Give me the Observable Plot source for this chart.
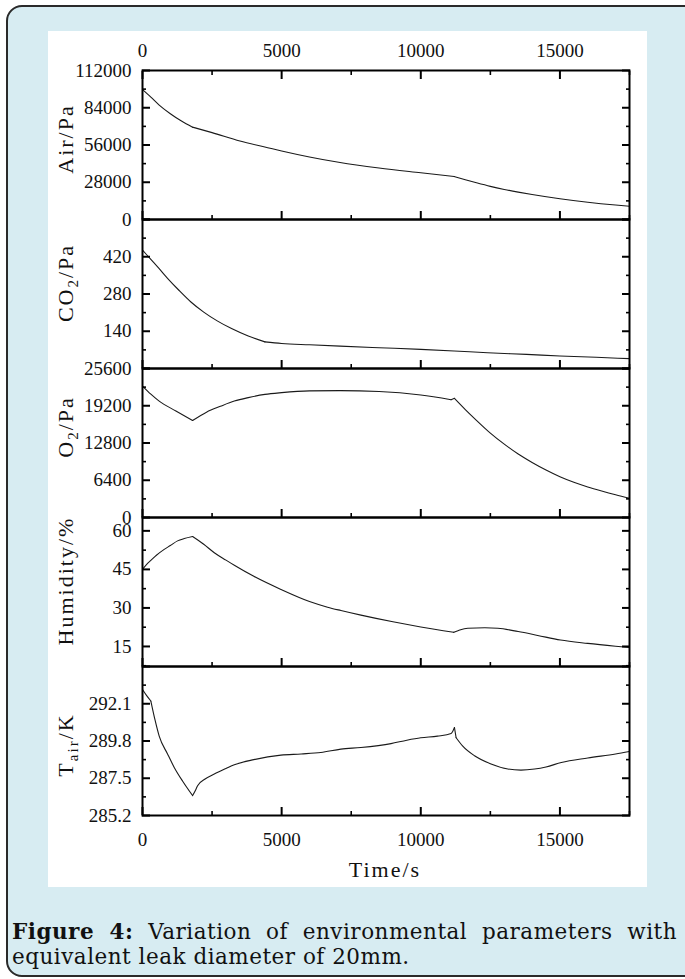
<!DOCTYPE html>
<html><head><meta charset="utf-8">
<script src="https://cdn.jsdelivr.net/npm/d3@7"></script>
<script src="https://cdn.jsdelivr.net/npm/@observablehq/plot@0.6"></script>
<style>
html,body{margin:0;padding:0;background:#fff;overflow:hidden;width:685px;height:979px;}
#outer{position:absolute;left:6px;top:5px;width:710px;height:972px;background:#d7ecf2;border:2px solid #2a2a2a;border-radius:16px;box-sizing:border-box;}
#white{position:absolute;left:48px;top:31px;width:599px;height:856px;background:#fff;}
.panel{position:absolute;left:0;}
.panel svg{overflow:visible;}
#cap1{position:absolute;left:12px;top:919px;width:665px;font-family:"DejaVu Serif",serif;font-size:21.5px;line-height:25px;letter-spacing:0.5px;text-align:justify;text-align-last:justify;color:#111;white-space:nowrap;}
#cap2{position:absolute;left:12px;top:944px;font-family:"DejaVu Serif",serif;font-size:21.5px;line-height:25px;letter-spacing:0.5px;color:#111;white-space:nowrap;}
</style></head>
<body>
<div id="outer"></div>
<div id="white"></div>
<div id="cap1"><b>Figure 4:</b> Variation of environmental parameters with</div>
<div id="cap2">equivalent leak diameter of 20mm.</div>
<script>
// ---- data ----
const xDomain = [0, 17500];
const xMajor = [0, 5000, 10000, 15000];
const xMinor = [2500, 7500, 12500, 17500];

const airT = [0, 300, 600, 1000, 1400, 1800, 2500, 3500, 4500, 5000, 6000, 7100, 8500, 10000, 11200, 11600, 12000, 12500, 13000, 13500, 14000, 15000, 16000, 17000, 17500];
const airV = [97700, 92000, 86000, 79500, 74000, 69400, 65300, 59000, 54000, 51500, 47000, 42800, 38700, 35100, 32300, 29900, 27600, 24900, 22600, 20600, 18800, 15600, 13000, 10900, 10000];
const airBreaks = [1800, 11200];

const co2T = [0, 300, 600, 900, 1300, 1740, 2200, 2700, 3200, 3800, 4400, 5000, 6000, 7100, 8500, 10000, 11200, 12400, 13800, 15000, 16300, 17500];
const co2V = [445, 410, 375, 339, 295, 250, 212, 178, 150, 122, 100, 94, 89, 84, 78, 72, 66, 59, 53, 47, 42, 37];
const co2Breaks = [4400];

const o2T = [0, 300, 600, 1200, 1800, 2300, 2800, 3300, 3800, 4400, 5000, 6000, 7100, 8500, 10000, 11090, 11210, 11600, 12000, 12500, 13000, 13500, 14000, 14500, 15000, 15500, 16000, 16500, 17000, 17500];
const o2V = [22590, 21200, 20000, 18300, 16660, 18100, 19100, 20000, 20600, 21150, 21450, 21750, 21800, 21650, 21040, 20240, 20470, 18550, 16700, 14500, 12600, 10900, 9450, 8150, 7000, 6050, 5250, 4550, 3900, 3300];
const o2Breaks = [1800, 11090, 11210];

const humT = [0, 150, 300, 500, 780, 1000, 1260, 1500, 1800, 2200, 2580, 3000, 3300, 4000, 4975, 6000, 6650, 7130, 7850, 9000, 10000, 11185, 11400, 11690, 12300, 12770, 13500, 14200, 15020, 16000, 17000, 17500];
const humV = [45, 47, 48.5, 50.5, 52.8, 54.3, 56.1, 57, 57.8, 54.8, 51.5, 48.6, 46.6, 42.3, 37.2, 32.5, 30.3, 29, 27.2, 24.6, 22.6, 20.5, 21.4, 22.1, 22.3, 22.1, 20.8, 19.3, 17.5, 16.2, 15.1, 14.6];
const humBreaks = [1800, 11185];

const tairT = [0, 150, 300, 450, 600, 900, 1140, 1450, 1800, 1900, 1980, 2250, 2580, 3000, 3300, 4000, 4975, 5700, 6410, 7130, 7850, 8930, 9500, 10000, 10600, 11090, 11150, 11210, 11270, 11500, 11930, 12500, 13130, 13600, 14090, 14500, 15050, 16000, 17000, 17500];
const tairV = [292.98, 292.6, 292.27, 291.1, 290.1, 289.0, 288.17, 287.3, 286.43, 286.75, 287.04, 287.45, 287.76, 288.1, 288.33, 288.65, 288.93, 289.0, 289.09, 289.3, 289.4, 289.64, 289.85, 290.0, 290.1, 290.26, 290.4, 290.63, 290.0, 289.5, 288.89, 288.4, 288.07, 288.0, 288.07, 288.2, 288.47, 288.75, 289.0, 289.15];
const tairBreaks = [300, 1800, 11210, 11270];

const panels = [
  {t: airT, v: airV, breaks: airBreaks, domain: [0, 112000], major: [0, 28000, 56000, 84000, 112000], minor: [14000, 42000, 70000, 98000], labels: [0, 28000, 56000, 84000, 112000], fmt: d => String(d), title: [["Air/Pa", 0]], titleY: 69},
  {t: co2T, v: co2V, breaks: co2Breaks, domain: [0, 560], major: [0, 140, 280, 420, 560], minor: [70, 210, 350, 490], labels: [140, 280, 420], fmt: d => String(d), title: [["CO", 0], ["2", 1], ["/Pa", 0]], titleY: 64},
  {t: o2T, v: o2V, breaks: o2Breaks, domain: [0, 25600], major: [0, 6400, 12800, 19200, 25600], minor: [3200, 9600, 16000, 22400], labels: [0, 6400, 12800, 19200, 25600], fmt: d => String(d), title: [["O", 0], ["2", 1], ["/Pa", 0]], titleY: 59},
  {t: humT, v: humV, breaks: humBreaks, domain: [7.2, 65.2], major: [15, 30, 45, 60], minor: [7.5, 22.5, 37.5, 52.5], labels: [15, 30, 45, 60], fmt: d => String(d), title: [["Humidity/%", 0]], titleY: 64},
  {t: tairT, v: tairV, breaks: tairBreaks, domain: [285.2, 294.4], major: [285.2, 287.5, 289.8, 292.1, 294.4], minor: [286.35, 288.65, 290.95, 293.25], labels: [285.2, 287.5, 289.8, 292.1], fmt: d3.format(".1f"), title: [["T", 0], ["air", 1], ["/K", 0]], titleY: 79}
];

// split a series into smooth pieces at its corner points (corner point shared by both pieces)
function segments(t, v, breaks) {
  const out = [];
  t.forEach((x, k) => {
    const seg = breaks.filter(b => b <= x).length;
    out.push({t: x, v: v[k], seg});
    if (breaks.includes(x)) out.push({t: x, v: v[k], seg: seg - 1});
  });
  return out;
}

const W = 599, H = 149, ML = 94, MR = 18;
const white = document.getElementById("white");
const titleFont = "'Liberation Serif', serif";

panels.forEach((p, i) => {
  const data = segments(p.t, p.v, p.breaks);
  const first = i === 0, last = i === panels.length - 1;
  const marks = [
    Plot.line(data, {x: "t", y: "v", z: "seg", sort: "t", stroke: "#1a1a1a", strokeWidth: 1.1, curve: "monotone-x"}),
    Plot.frame({stroke: "#000", strokeWidth: 2}),
    Plot.axisX({anchor: "bottom", ticks: xMajor, tickSize: -8, fill: "none", label: null, strokeWidth: 2, stroke: "#000"}),
    Plot.axisX({anchor: "bottom", ticks: xMinor, tickSize: -4, fill: "none", label: null, strokeWidth: 1.6, stroke: "#000"}),
    Plot.axisY({anchor: "left", ticks: p.major, tickSize: -8, fill: "none", label: null, strokeWidth: 2, stroke: "#000"}),
    Plot.axisY({anchor: "left", ticks: p.minor, tickSize: -4, fill: "none", label: null, strokeWidth: 1.6, stroke: "#000"}),
    Plot.axisY({anchor: "right", ticks: p.major, tickSize: -8, fill: "none", label: null, strokeWidth: 2, stroke: "#000"}),
    Plot.axisY({anchor: "right", ticks: p.minor, tickSize: -4, fill: "none", label: null, strokeWidth: 1.6, stroke: "#000"}),
    Plot.axisY({anchor: "left", ticks: p.labels, tickSize: 0, tickPadding: 11, tickFormat: p.fmt, label: null, fill: "#111"})
  ];
  if (first) {
    marks.push(
      Plot.axisX({anchor: "top", ticks: xMajor, tickSize: -8, fill: "none", label: null, strokeWidth: 2, stroke: "#000"}),
      Plot.axisX({anchor: "top", ticks: xMinor, tickSize: -4, fill: "none", label: null, strokeWidth: 1.6, stroke: "#000"}),
      Plot.axisX({anchor: "top", ticks: xMajor, tickSize: 0, tickPadding: 14, tickFormat: d => String(d), label: null, fill: "#111"})
    );
  }
  if (last) {
    marks.push(Plot.axisX({anchor: "bottom", ticks: xMajor, tickSize: 0, tickPadding: 17, tickFormat: d => String(d), label: null, fill: "#111"}));
  }
  const svg = Plot.plot({
    width: W, height: H,
    marginLeft: ML, marginRight: MR, marginTop: 0, marginBottom: 0,
    x: {domain: xDomain},
    y: {domain: p.domain},
    style: {background: "transparent", overflow: "visible", fontFamily: "'Liberation Serif', serif", fontSize: "19px", color: "#111"},
    marks
  });
  const s = d3.select(svg);
  const txt = s.append("text")
    .attr("transform", `translate(25,${p.titleY}) rotate(-90)`)
    .attr("text-anchor", "middle")
    .attr("font-family", titleFont)
    .attr("font-size", 22)
    .attr("letter-spacing", 2)
    .attr("fill", "#111");
  p.title.forEach(([str, sub], k) => {
    const ts = txt.append("tspan").text(str);
    if (sub) ts.attr("font-size", 15).attr("dy", 5);
    else if (k > 0 && p.title[k - 1][1]) ts.attr("dy", -5);
  });
  if (last) {
    s.append("text")
      .attr("x", 337).attr("y", 211)
      .attr("text-anchor", "middle")
      .attr("font-family", titleFont)
      .attr("font-size", 22)
      .attr("letter-spacing", 2)
      .attr("fill", "#111")
      .text("Time/s");
  }
  const div = document.createElement("div");
  div.className = "panel";
  div.style.top = (39 + i * H) + "px";
  div.appendChild(svg);
  white.appendChild(div);
});
</script>
</body></html>
